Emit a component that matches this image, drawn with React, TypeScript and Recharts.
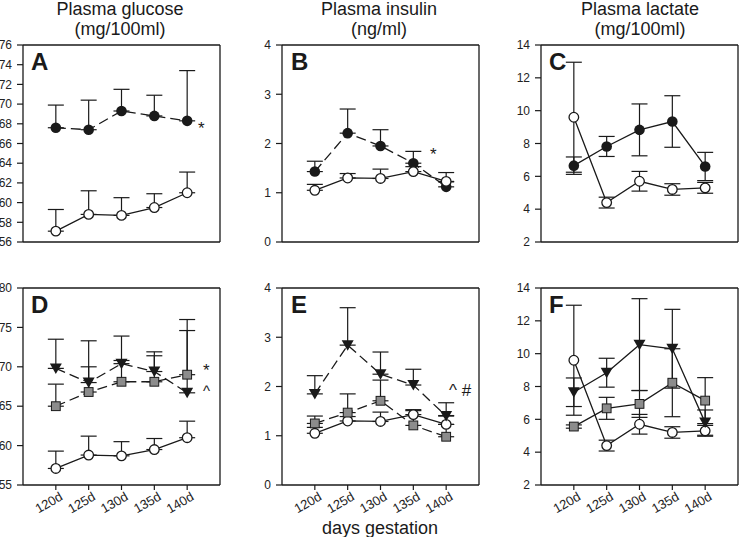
import React from "react";
import { LineChart, Line, XAxis, YAxis, ErrorBar, ReferenceLine } from "recharts";

const days = [120, 125, 130, 135, 140];
const dayLabels = ["120d", "125d", "130d", "135d", "140d"];

// glucose (mg/100ml) — panels A and D
const glucoseOpen = [57.1, 58.8, 58.7, 59.5, 61.0];
const glucoseOpenErr = [2.2, 2.4, 1.8, 1.4, 2.1];
const glucoseFilled = [67.6, 67.4, 69.3, 68.8, 68.3];
const glucoseFilledErr = [2.3, 3.0, 2.2, 2.1, 5.1];
const glucoseTri = [69.8, 68.0, 70.4, 69.4, 66.7];
const glucoseTriErr = [3.7, 5.3, 3.5, 2.5, 9.3];
const glucoseSq = [65.0, 66.8, 68.1, 68.1, 69.0];
const glucoseSqErr = [2.8, 3.2, 2.7, 3.3, 5.6];

// insulin (ng/ml) — panels B and E
const insulinOpen = [1.05, 1.3, 1.29, 1.43, 1.23];
const insulinOpenErr = [0.12, 0.09, 0.19, 0.1, 0.18];
const insulinFilled = [1.43, 2.21, 1.95, 1.6, 1.12];
const insulinFilledErr = [0.21, 0.49, 0.33, 0.24, 0.1];
const insulinTri = [1.85, 2.84, 2.25, 2.03, 1.4];
const insulinTriErr = [0.37, 0.76, 0.45, 0.32, 0.27];
const insulinSq = [1.25, 1.47, 1.71, 1.21, 0.98];
const insulinSqErr = [0.15, 0.38, 0.42, 0.3, 0.25];

// lactate (mg/100ml) — panels C and F, symmetric error
const lactateOpen = [9.6, 4.4, 5.7, 5.2, 5.3];
const lactateOpenErr = [3.35, 0.33, 0.6, 0.35, 0.33];
const lactateFilled = [6.65, 7.82, 8.83, 9.34, 6.6];
const lactateFilledErr = [0.53, 0.61, 1.58, 1.57, 0.86];
const lactateTri = [7.65, 8.84, 10.55, 10.3, 5.8];
const lactateTriErr = [0.87, 0.88, 2.8, 2.4, 0.77];
const lactateSq = [5.56, 6.67, 6.94, 8.23, 7.14];
const lactateSqErr = [0.1, 0.67, 0.82, 2.07, 1.4];

const glucoseTicksTop = [56, 58, 60, 62, 64, 66, 68, 70, 72, 74, 76];
const glucoseTicksBottom = [55, 60, 65, 70, 75, 80];
const insulinTicks = [0, 1, 2, 3, 4];
const lactateTicks = [2, 4, 6, 8, 10, 12, 14];

const FONT = "'Liberation Sans', Arial, sans-serif";
const INK = "#1a1a1a";

type Shape = "open" | "filled" | "tri" | "sq";
type Series = { key: string; err: string; shape: Shape; dashed?: boolean };

const up = (a: number[]) => a.map((e) => [0, e]);

function rows(cols: Record<string, any[]>) {
  return days.map((day, i) => {
    const r: any = { day };
    for (const k in cols) r[k] = cols[k][i];
    return r;
  });
}

const dataA = rows({ open: glucoseOpen, openErr: up(glucoseOpenErr), filled: glucoseFilled, filledErr: up(glucoseFilledErr) });
const dataB = rows({ open: insulinOpen, openErr: up(insulinOpenErr), filled: insulinFilled, filledErr: up(insulinFilledErr) });
const dataC = rows({ open: lactateOpen, openErr: lactateOpenErr, filled: lactateFilled, filledErr: lactateFilledErr });
const dataD = rows({
  open: glucoseOpen, openErr: up(glucoseOpenErr),
  sq: glucoseSq, sqErr: up(glucoseSqErr),
  tri: glucoseTri, triErr: up(glucoseTriErr),
});
const dataE = rows({
  open: insulinOpen, openErr: up(insulinOpenErr),
  sq: insulinSq, sqErr: up(insulinSqErr),
  tri: insulinTri, triErr: up(insulinTriErr),
});
const dataF = rows({
  open: lactateOpen, openErr: lactateOpenErr,
  sq: lactateSq, sqErr: lactateSqErr,
  tri: lactateTri, triErr: lactateTriErr,
});

function Marker({ cx, cy, shape }: { cx?: number; cy?: number; shape: Shape }) {
  if (cx == null || cy == null) return <g />;
  if (shape === "open") return <circle cx={cx} cy={cy} r={4.8} fill="#fff" stroke={INK} strokeWidth={1.3} />;
  if (shape === "filled") return <circle cx={cx} cy={cy} r={5.3} fill={INK} />;
  if (shape === "tri")
    return <path d={`M${cx - 6},${cy - 5} L${cx + 6},${cy - 5} L${cx},${cy + 5.5} Z`} fill={INK} />;
  return <rect x={cx - 4.4} y={cy - 4.4} width={8.8} height={8.8} fill="#8c8c8c" stroke={INK} strokeWidth={1} />;
}

function DayTick({ x, y, payload }: any) {
  const i = days.indexOf(payload.value);
  return (
    <text
      x={x}
      y={y}
      dx={3}
      dy={10}
      transform={`rotate(-30 ${x} ${y})`}
      textAnchor="end"
      fontSize={13}
      fontFamily={FONT}
      fill="#222"
    >
      {dayLabels[i]}
    </text>
  );
}

function Panel({
  left, top, yWidth, marginRight, bottomRow, domain, ticks, data, series, tickFont = 12,
}: {
  left: number; top: number; yWidth: number; marginRight: number; bottomRow: boolean;
  domain: [number, number]; ticks: number[]; data: any[]; series: Series[]; tickFont?: number;
}) {
  const xHeight = bottomRow ? 45 : 10;
  const width = yWidth + 197 + marginRight;
  const height = 10 + 197 + xHeight;
  return (
    <div style={{ position: "absolute", left, top }}>
      <LineChart width={width} height={height} data={data} margin={{ top: 10, right: marginRight, bottom: 0, left: 0 }}>
        <XAxis
          dataKey="day"
          type="number"
          domain={[115, 145]}
          ticks={days}
          interval={0}
          height={xHeight}
          tickSize={5}
          tickMargin={2}
          stroke={INK}
          axisLine={{ stroke: INK, strokeWidth: 1.3 }}
          tickLine={{ stroke: INK, strokeWidth: 1.2 }}
          tick={bottomRow ? <DayTick /> : false}
        />
        <YAxis
          type="number"
          domain={domain}
          ticks={ticks}
          interval={0}
          allowDataOverflow
          width={yWidth}
          tickSize={6}
          tickMargin={5}
          axisLine={{ stroke: INK, strokeWidth: 1.3 }}
          tickLine={{ stroke: INK, strokeWidth: 1.2 }}
          tick={{ fontSize: tickFont, fontFamily: FONT, fill: "#222" }}
        />
        <ReferenceLine y={domain[1]} stroke={INK} strokeWidth={1.3} />
        <ReferenceLine x={145} stroke={INK} strokeWidth={1.3} />
        {series.map((s) => (
          <Line
            key={s.key}
            dataKey={s.key}
            type="linear"
            stroke={INK}
            strokeWidth={1.3}
            strokeDasharray={s.dashed ? "10 5" : undefined}
            isAnimationActive={false}
            dot={(p: any) => <Marker key={`${s.key}-${p.index}`} cx={p.cx} cy={p.cy} shape={s.shape} />}
            activeDot={false}
          >
            <ErrorBar dataKey={s.err} width={8} stroke={INK} strokeWidth={1.2} direction="y" />
          </Line>
        ))}
      </LineChart>
    </div>
  );
}

const txt = (extra: React.CSSProperties): React.CSSProperties => ({
  position: "absolute",
  fontFamily: FONT,
  color: "#1a1a1a",
  whiteSpace: "nowrap",
  lineHeight: 1,
  ...extra,
});

function Title({ cx, l1, l2 }: { cx: number; l1: string; l2: string }) {
  return (
    <>
      <div style={txt({ left: cx - 100, width: 200, top: 0, fontSize: 18, textAlign: "center" })}>{l1}</div>
      <div style={txt({ left: cx - 100, width: 200, top: 20, fontSize: 18, textAlign: "center" })}>{l2}</div>
    </>
  );
}

function Letter({ x, y, c }: { x: number; y: number; c: string }) {
  return <div style={txt({ left: x, top: y, fontSize: 24, fontWeight: "bold" })}>{c}</div>;
}

export default function App() {
  const openS: Series = { key: "open", err: "openErr", shape: "open" };
  return (
    <div style={{ position: "absolute", left: 0, top: 0, width: 739, height: 537, overflow: "hidden", background: "#fff" }}>
      <Title cx={120} l1="Plasma glucose" l2="(mg/100ml)" />
      <Title cx={379} l1="Plasma insulin" l2="(ng/ml)" />
      <Title cx={640} l1="Plasma lactate" l2="(mg/100ml)" />

      <Panel left={0} top={35} yWidth={23} marginRight={10} bottomRow={false} domain={[56, 76]} ticks={glucoseTicksTop}
        data={dataA} series={[{ key: "filled", err: "filledErr", shape: "filled", dashed: true }, openS]} />
      <Panel left={250} top={35} yWidth={32} marginRight={10} bottomRow={false} domain={[0, 4]} ticks={insulinTicks}
        data={dataB} series={[{ key: "filled", err: "filledErr", shape: "filled", dashed: true }, openS]} />
      <Panel left={505} top={35} yWidth={36} marginRight={1} bottomRow={false} domain={[2, 14]} ticks={lactateTicks}
        data={dataC} series={[{ key: "filled", err: "filledErr", shape: "filled" }, openS]} />

      <Panel left={0} top={278} yWidth={23} marginRight={10} bottomRow domain={[55, 80]} ticks={glucoseTicksBottom}
        data={dataD} series={[openS, { key: "sq", err: "sqErr", shape: "sq", dashed: true }, { key: "tri", err: "triErr", shape: "tri", dashed: true }]} />
      <Panel left={250} top={278} yWidth={32} marginRight={10} bottomRow domain={[0, 4]} ticks={insulinTicks}
        data={dataE} series={[openS, { key: "sq", err: "sqErr", shape: "sq", dashed: true }, { key: "tri", err: "triErr", shape: "tri", dashed: true }]} />
      <Panel left={505} top={278} yWidth={36} marginRight={1} bottomRow domain={[2, 14]} ticks={lactateTicks}
        data={dataF} series={[openS, { key: "sq", err: "sqErr", shape: "sq" }, { key: "tri", err: "triErr", shape: "tri" }]} />

      <Letter x={31} y={50} c="A" />
      <Letter x={291} y={50} c="B" />
      <Letter x={549} y={50} c="C" />
      <Letter x={31} y={293} c="D" />
      <Letter x={291} y={293} c="E" />
      <Letter x={549} y={293} c="F" />

      <div style={txt({ left: 198, top: 120, fontSize: 17 })}>*</div>
      <div style={txt({ left: 430, top: 146, fontSize: 17 })}>*</div>
      <div style={txt({ left: 203, top: 362, fontSize: 17 })}>*</div>
      <div style={txt({ left: 203, top: 383, fontSize: 15 })}>^</div>
      <div style={txt({ left: 449, top: 382, fontSize: 17 })}>^ #</div>

      <div style={txt({ left: 280, width: 200, top: 519, fontSize: 18, textAlign: "center" })}>days gestation</div>
    </div>
  );
}
